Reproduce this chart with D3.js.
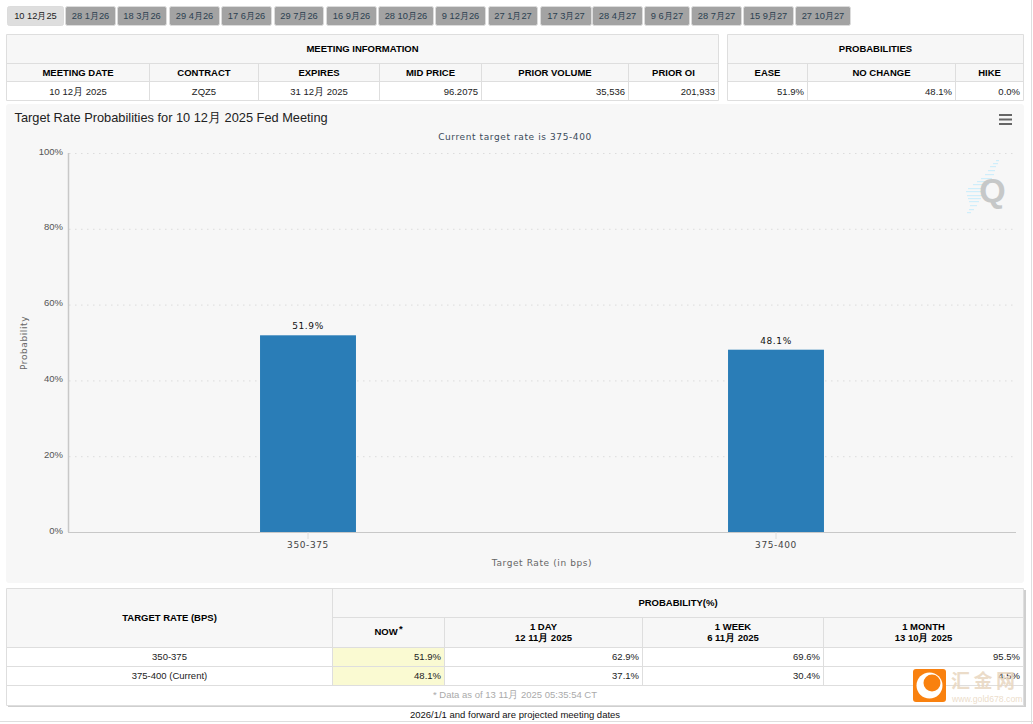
<!DOCTYPE html>
<html>
<head>
<meta charset="utf-8">
<script src="https://cdn.jsdelivr.net/npm/d3@7"></script>
<style>
  html, body { margin: 0; padding: 0; background: #fff; overflow: hidden; }
  svg { display: block; }
  text { font-family: "Liberation Sans", Arial, sans-serif; }
  .spaced { font-family: "DejaVu Sans", sans-serif; letter-spacing: 0.6px; }
</style>
</head>
<body>
<svg id="page" width="1033" height="724"></svg>
<script>
//Chart data
const rateLabels = ["350-375", "375-400"];
const probabilities = [51.9, 48.1];
const yTicks = [0, 20, 40, 60, 80, 100];

//Tabs
const tabLabels = ["10 12月25", "28 1月26", "18 3月26", "29 4月26", "17 6月26", "29 7月26", "16 9月26", "28 10月26", "9 12月26",
    "27 1月27", "17 3月27", "28 4月27", "9 6月27", "28 7月27", "15 9月27", "27 10月27"];

//Table text
const meetingHeaders = ["MEETING DATE", "CONTRACT", "EXPIRES", "MID PRICE", "PRIOR VOLUME", "PRIOR OI"];
const meetingValues = ["10 12月 2025", "ZQZ5", "31 12月 2025", "96.2075", "35,536", "201,933"];
const outcomeHeaders = ["EASE", "NO CHANGE", "HIKE"];
const outcomeValues = ["51.9%", "48.1%", "0.0%"];
const historyRates = ["350-375", "375-400 (Current)"];
const historyNow = ["51.9%", "48.1%"];
const historyDay = ["62.9%", "37.1%"];
const historyWeek = ["69.6%", "30.4%"];
const historyMonth = ["95.5%", "4.5%"];

const svg = d3.select("#page");
const lineColor = "#dedede";
const headFill = "#f7f7f7";

function label(parent, x, y, str, size, opts) {
    opts = opts || {};
    return parent.append("text")
        .attr("x", x).attr("y", y)
        .attr("text-anchor", opts.anchor || "middle")
        .attr("font-size", size)
        .attr("font-weight", opts.bold ? "bold" : "normal")
        .attr("fill", opts.color || "#111")
        .text(str);
}

function box(x0, y0, x1, y1, fill) {
    svg.append("rect").attr("x", x0).attr("y", y0)
        .attr("width", x1 - x0).attr("height", y1 - y0).attr("fill", fill);
}

function hline(x0, x1, y) {
    svg.append("line").attr("x1", x0).attr("x2", x1).attr("y1", y).attr("y2", y)
        .attr("stroke", lineColor);
}

function vline(x, y0, y1) {
    svg.append("line").attr("x1", x).attr("x2", x).attr("y1", y0).attr("y2", y1)
        .attr("stroke", lineColor);
}

//Tabs along the top
const tabEdges = [[8, 63], [66, 115], [118, 166], [170, 219], [222, 271], [275, 323], [327, 376], [379, 433], [436, 485],
    [489, 537], [541, 591], [593, 642], [645, 689], [692, 741], [744, 793], [796, 850]];
tabLabels.forEach((tab, i) => {
    let [x0, x1] = tabEdges[i];
    svg.append("rect").attr("x", x0 - 0.5).attr("y", 6.5).attr("width", x1 - x0 + 1).attr("height", 19).attr("rx", 2)
        .attr("fill", i == 0 ? "#dedede" : "#a3a3a3").attr("stroke", "#dcdcdc");
    label(svg, (x0 + x1) / 2, 19, tab, 9.3, { color: i == 0 ? "#222" : "#2b3f50" });
});

//Small two-row tables above the chart
function infoTable(columns, title, headers, values, rightFrom) {
    let x0 = columns[0], x1 = columns[columns.length - 1];
    box(x0, 34.5, x1, 81.5, headFill);
    box(x0, 81.5, x1, 100.5, "#fff");
    [34.5, 63.5, 81.5, 100.5].forEach(y => hline(x0, x1, y));
    vline(x0, 34.5, 100.5);
    vline(x1, 34.5, 100.5);
    columns.slice(1, -1).forEach(x => vline(x, 63.5, 100.5));
    label(svg, (x0 + x1) / 2, 52, title, 9.5, { bold: true, color: "#000" });
    headers.forEach((h, i) => {
        label(svg, (columns[i] + columns[i + 1]) / 2, 76, h, 9.5, { bold: true, color: "#000" });
        if (i >= rightFrom) {
            label(svg, columns[i + 1] - 3.5, 95, values[i], 9.5, { anchor: "end", color: "#222" });
        } else {
            label(svg, (columns[i] + columns[i + 1]) / 2, 95, values[i], 9.5, { color: "#222" });
        }
    });
}
infoTable([6.5, 149.5, 258.5, 379.5, 481.5, 628.5, 718.5], "MEETING INFORMATION", meetingHeaders, meetingValues, 3);
infoTable([727.5, 807.5, 955.5, 1023.5], "PROBABILITIES", outcomeHeaders, outcomeValues, 0);

//Chart panel
svg.append("rect").attr("x", 6).attr("y", 104).attr("width", 1018).attr("height", 479).attr("rx", 3).attr("fill", headFill);
label(svg, 14.5, 122, "Target Rate Probabilities for 10 12月 2025 Fed Meeting", 12.8, { anchor: "start", color: "#222" });
label(svg, 515, 140, "Current target rate is 375-400", 9, { color: "#3a4a5a" }).attr("class", "spaced");

//Menu icon
[115, 119.5, 124].forEach(y => {
    svg.append("line").attr("x1", 999).attr("x2", 1012).attr("y1", y).attr("y2", y)
        .attr("stroke", "#666").attr("stroke-width", 2);
});

//Q watermark
const streaks = [[996, 160, 3], [993, 163, 5], [990, 166, 6], [988, 170, 7], [985, 174, 9], [981, 178, 11], [977, 181, 14], [973, 184, 16],
    [968, 188, 18], [966, 191, 18], [967, 195, 16], [968, 198, 13], [969, 201, 10], [970, 205, 7], [969, 209, 5], [967, 212, 4]];
streaks.forEach(([x, y, w]) => {
    svg.append("rect").attr("x", x).attr("y", y).attr("width", w).attr("height", 1.2).attr("fill", "#cfeefb");
});
label(svg, 992.5, 202, "Q", 34, { bold: true, color: "#c6c8c8" });

//Scales
const x = d3.scaleBand().domain(rateLabels).range([74, 1010]).paddingInner(0.795).paddingOuter(0.3975);
const y = d3.scaleLinear().domain([0, 100]).range([532, 153]);

//Gridlines
svg.append("g").selectAll("line").data(yTicks).join("line")
    .attr("x1", 69).attr("x2", 1016)
    .attr("y1", d => y(d) + 0.5).attr("y2", d => y(d) + 0.5)
    .attr("stroke", "#dcdcdc").attr("stroke-dasharray", "1.5,4.5");

//Bars
svg.append("g").selectAll("rect").data(probabilities).join("rect")
    .attr("x", (d, i) => x(rateLabels[i]))
    .attr("y", d => y(d))
    .attr("width", x.bandwidth())
    .attr("height", d => y(0) - y(d))
    .attr("fill", "#2a7db7");

svg.append("g").selectAll("text").data(probabilities).join("text")
    .attr("class", "spaced")
    .attr("x", (d, i) => x(rateLabels[i]) + x.bandwidth() / 2)
    .attr("y", d => y(d) - 6)
    .attr("text-anchor", "middle")
    .attr("font-size", 9)
    .attr("fill", "#111")
    .text(d => d + "%");

//Axes
const xAxis = svg.append("g").attr("transform", "translate(0,532)")
    .call(d3.axisBottom(x).tickSize(7).tickPadding(3));
xAxis.select(".domain").attr("d", "M68,0.5H1016").attr("stroke", "#c8c8c8").attr("stroke-width", 1);
xAxis.selectAll(".tick line").attr("stroke", "#dcdcdc");
xAxis.selectAll(".tick text").attr("class", "spaced").attr("font-size", 9).attr("fill", "#444").attr("font-family", null);

const yAxis = svg.append("g").attr("transform", "translate(68,0)")
    .call(d3.axisLeft(y).tickValues(yTicks).tickSize(0).tickPadding(5).tickFormat(d => d + "%"));
yAxis.select(".domain").attr("d", "M0.5,153V532").attr("stroke", "#c8c8c8").attr("stroke-width", 1.5);
yAxis.selectAll(".tick text").attr("font-size", 9.5).attr("fill", "#555").attr("font-family", null).attr("dy", "0.12em");

label(svg, 542, 566, "Target Rate (in bps)", 9, { color: "#666" }).attr("class", "spaced");
label(svg, 0, 0, "Probability", 9, { color: "#666" }).attr("class", "spaced")
    .attr("transform", "translate(27,343) rotate(-90)");

//Probability history table
const histCols = [6.5, 332.5, 444.5, 642.5, 823.5, 1023.5];
svg.append("rect").attr("x", 8).attr("y", 590).attr("width", 1018).attr("height", 117).attr("fill", "#cfcfcf");
box(6.5, 588.5, 1023.5, 647.5, headFill);
box(6.5, 647.5, 1023.5, 705.5, "#fff");
box(332.5, 647.5, 444.5, 685.5, "#fafad2");
[588.5, 647.5, 666.5, 685.5, 705.5].forEach(v => hline(6.5, 1023.5, v));
hline(332.5, 1023.5, 617.5);
vline(6.5, 588.5, 705.5);
vline(1023.5, 588.5, 705.5);
vline(332.5, 588.5, 685.5);
histCols.slice(2, -1).forEach(c => vline(c, 617.5, 685.5));

label(svg, 169.5, 621, "TARGET RATE (BPS)", 9.5, { bold: true, color: "#000" });
label(svg, 678, 606, "PROBABILITY(%)", 9.5, { bold: true, color: "#000" });
label(svg, 386, 635, "NOW", 9.5, { bold: true, color: "#000" });
label(svg, 399, 632, "*", 9.5, { anchor: "start", bold: true, color: "#000" });
const histHeads = [["1 DAY", "12 11月 2025"], ["1 WEEK", "6 11月 2025"], ["1 MONTH", "13 10月 2025"]];
histHeads.forEach((h, i) => {
    let mid = (histCols[i + 2] + histCols[i + 3]) / 2;
    label(svg, mid, 630, h[0], 9.5, { bold: true, color: "#000" });
    label(svg, mid, 641, h[1], 9.5, { bold: true, color: "#000" });
});
historyRates.forEach((r, i) => {
    let base = 660 + i * 19;
    label(svg, 169.5, base, r, 9.5, { color: "#222" });
    [historyNow, historyDay, historyWeek, historyMonth].forEach((col, j) => {
        label(svg, histCols[j + 2] - 3.5, base, col[i], 9.5, { anchor: "end", color: "#222" });
    });
});
label(svg, 515, 698, "* Data as of 13 11月 2025 05:35:54 CT", 9.5, { color: "#aaa" });
label(svg, 515, 718, "2026/1/1 and forward are projected meeting dates", 9.5, { color: "#111" });
hline(0, 1033, 721.5);
vline(1031.5, 0, 724);

//Gold678 logo stamp
svg.append("rect").attr("x", 913).attr("y", 669).attr("width", 33).attr("height", 33).attr("rx", 3).attr("fill", "#f9810f");
svg.append("circle").attr("cx", 929.5).attr("cy", 685.5).attr("r", 13).attr("fill", "#fff");
svg.append("circle").attr("cx", 932).attr("cy", 683).attr("r", 8.5).attr("fill", "#f9810f");
label(svg, 951, 688, "汇金网", 19, { anchor: "start", bold: true, color: "rgba(232,214,192,0.85)" })
    .style("font-family", "'Noto Sans CJK SC', sans-serif").attr("letter-spacing", "3.5px");
label(svg, 952, 702, "www.gold678.com", 8.7, { anchor: "start", color: "rgba(232,214,192,0.85)" });
</script>
</body>
</html>
